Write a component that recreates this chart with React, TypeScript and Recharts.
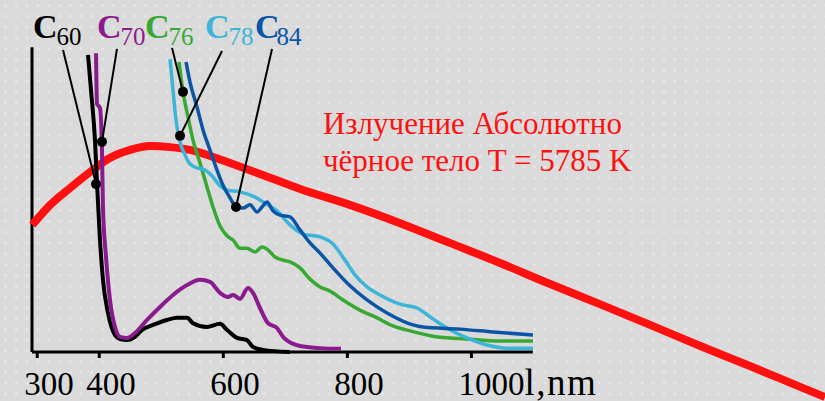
import React from 'react';
import { LineChart, Line, XAxis, YAxis, ReferenceLine, ReferenceDot } from 'recharts';

const SERIF = '"Liberation Serif", "Times New Roman", serif';

// [wavelength nm, relative intensity]
const blackBody: [number, number][] = [
  [292, 36.1], [321, 41.8], [353, 46.6], [385, 51.1], [417, 55.1], [450, 57.4], [482, 58.5],
  [514, 58.2], [546, 57.4], [579, 55.7], [611, 53.7], [659, 50.6], [724, 46.3], [804, 41.8],
  [885, 36.6], [965, 31.0], [1046, 25.3], [1127, 19.3], [1207, 13.6], [1288, 7.7],
  [1369, 1.7], [1449, -4.0], [1530, -9.9], [1570, -12.8],
];

const c60: [number, number][] = [
  [381.9, 84.4], [386.7, 74.4], [393.1, 60.2], [396.4, 48.0], [401.2, 31.8], [406.0, 20.5],
  [414.1, 11.1], [425.4, 4.8], [433.5, 3.7], [444.7, 3.4], [457.6, 4.3], [468.9, 6.3],
  [486.7, 7.7], [509.2, 9.1], [525.3, 9.7], [541.5, 9.7], [551.1, 8.2], [573.7, 7.1],
  [594.7, 8.0], [605.9, 6.3], [622.1, 4.0], [638.2, 3.4], [647.9, 1.4], [664.0, 0.6], [707.5, 0],
];

const c70: [number, number][] = [
  [394.8, 84.9], [396.4, 70.5], [401.2, 69.3], [404.4, 57.4], [406.0, 41.2], [410.9, 27.0],
  [417.3, 14.8], [425.4, 7.1], [433.5, 4.3], [444.7, 4.0], [457.6, 5.4], [477.0, 9.1],
  [497.9, 12.8], [518.9, 16.2], [541.5, 19.0], [562.4, 20.5], [578.5, 19.9], [594.7, 16.8],
  [607.6, 15.6], [615.6, 16.2], [626.9, 15.1], [639.8, 18.2], [647.9, 16.8], [659.1, 12.5],
  [672.0, 8.2], [686.6, 6.8], [697.8, 4.0], [723.6, 1.7], [755.9, 1.1], [789.7, 0.9],
];

const c76: [number, number][] = [
  [528.6, 82.4], [535.0, 73.9], [543.1, 66.8], [551.1, 60.2], [562.4, 53.7], [573.7, 46.9],
  [583.4, 41.2], [594.7, 35.8], [605.9, 33.0], [615.6, 31.8], [626.9, 29.5], [638.2, 29.5],
  [651.1, 28.4], [662.4, 29.8], [672.0, 29.0], [683.3, 27.0], [696.2, 26.1], [707.5, 25.6],
  [723.6, 23.9], [739.8, 20.7], [755.9, 18.5], [772.0, 17.3], [793.0, 14.8], [820.4, 11.9],
  [847.8, 9.7], [873.6, 7.4], [901.0, 6.0], [938.0, 4.5], [992.8, 3.7], [1046.1, 3.1], [1099.2, 3.1],
];

const c78: [number, number][] = [
  [514.1, 83.2], [518.9, 74.4], [523.7, 65.9], [530.2, 59.7], [538.2, 56.0], [546.3, 53.4],
  [557.6, 52.3], [570.5, 51.7], [581.8, 50.0], [594.7, 47.2], [605.9, 46.0], [626.9, 45.5],
  [651.1, 44.0], [667.2, 42.3], [686.6, 40.1], [707.5, 36.1], [728.5, 33.5], [755.9, 32.7],
  [776.8, 30.7], [796.2, 26.1], [812.3, 21.9], [831.6, 18.5], [852.6, 16.2], [884.8, 13.6],
  [912.2, 12.5], [938.0, 9.4], [965.4, 6.3], [992.8, 4.0], [1025.1, 2.0], [1057.3, 1.1], [1099.2, 1.1],
];

const c84: [number, number][] = [
  [539.9, 82.4], [546.3, 76.7], [557.6, 69.6], [567.3, 63.1], [578.5, 57.4], [589.8, 51.7],
  [599.5, 47.4], [610.8, 43.8], [620.5, 41.2], [631.7, 40.9], [643.0, 41.8], [654.3, 39.8],
  [662.4, 41.2], [670.4, 42.6], [680.1, 40.1], [691.4, 38.9], [707.5, 38.4], [723.6, 34.7],
  [739.8, 31.0], [755.9, 28.1], [776.8, 23.9], [804.2, 18.8], [831.6, 14.8], [863.9, 11.1],
  [905.8, 7.7], [921.9, 7.1], [981.6, 6.5], [1034.8, 5.7], [1099.2, 4.8],
];

const xTicks = [300, 400, 600, 800, 1000];
const xAxisName = 'l,nm';
const xAxisRange: [number, number] = [291.6, 1099];
const yAxisTop = 86.6;
const tickDepth = 1.7;
const tickLabelLevel = -12.2;

const annotationText = ['Излучение Абсолютно', 'чёрное тело T = 5785 K'];
const annotationAt: [number, number] = [760.7, 61.9];

// label: subscript, label anchor [x, y], leader from [x, y] to dot [x, y]
const speciesNames = ['60', '70', '76', '78', '84'];
const speciesColors = ['#000000', '#8A1B8C', '#37A834', '#3DB5D8', '#0B55A6'];
const speciesLabelAt: [number, number][] = [[293.2, 89.2], [396.4, 89.2], [473.8, 89.2], [570.5, 89.2], [651.1, 89.2]];
const leaderFrom: [number, number][] = [[341.6, 85.8], [428.6, 86.1], [517.3, 86.4], [597.9, 85.5], [678.5, 86.1]];
const leaderTo: [number, number][] = [[394.8, 47.7], [404.4, 59.7], [535.0, 73.9], [530.2, 61.4], [620.5, 41.2]];

const toRows = (pts: [number, number][]) => pts.map(([x, y]) => ({ x, y }));

const TickText = (props: any) => {
  const { viewBox, text, extra } = props;
  if (!viewBox) return null;
  return (
    <text x={viewBox.x - 13} y={viewBox.y} fontFamily={SERIF} fontSize={33} fill="#000" textAnchor="start">
      {text}
      {extra ? <tspan fontSize={37} letterSpacing={1.5}>{extra}</tspan> : null}
    </text>
  );
};

const SpeciesText = (props: any) => {
  const { viewBox, name, color, shift } = props;
  if (!viewBox) return null;
  return (
    <text x={viewBox.x} y={viewBox.y} fontFamily={SERIF} fill={color} textAnchor="start">
      <tspan fontSize={34} fontWeight="bold">C</tspan>
      <tspan fontSize={25} dx={shift} dy={7}>{name}</tspan>
    </text>
  );
};

const RedText = (props: any) => {
  const { viewBox } = props;
  if (!viewBox) return null;
  return (
    <g>
      {annotationText.map((t, i) => (
        <text key={i} x={viewBox.x} y={viewBox.y + i * 37} fontFamily={SERIF} fontSize={31} fill="#FF1010" textAnchor="start">
          {t}
        </text>
      ))}
    </g>
  );
};

const curves = [
  { key: 'bb', data: blackBody, color: '#FF1010', width: 8 },
  { key: 'c60', data: c60, color: speciesColors[0], width: 4 },
  { key: 'c70', data: c70, color: speciesColors[1], width: 4 },
  { key: 'c76', data: c76, color: speciesColors[2], width: 3.5 },
  { key: 'c78', data: c78, color: speciesColors[3], width: 3.5 },
  { key: 'c84', data: c84, color: speciesColors[4], width: 3.5 },
];

export default function App() {
  return (
    <div
      style={{
        position: 'absolute',
        left: 0,
        top: 0,
        width: 825,
        height: 401,
        backgroundColor: '#dadada',
        backgroundImage: 'radial-gradient(circle, #e7e7e7 1.2px, transparent 1.6px)',
        backgroundSize: '10.8px 10.8px',
      }}
    >
      <LineChart width={825} height={401} margin={{ top: 0, right: 0, bottom: 0, left: 0 }}>
        <XAxis type="number" dataKey="x" domain={[240, 1570]} allowDataOverflow hide />
        <YAxis type="number" dataKey="y" domain={[-13.92, 100]} allowDataOverflow hide />

        <ReferenceLine segment={[{ x: xAxisRange[0], y: 0 }, { x: xAxisRange[1], y: 0 }]} stroke="#000" strokeWidth={3} />
        <ReferenceLine segment={[{ x: xAxisRange[0], y: 0 }, { x: xAxisRange[0], y: yAxisTop }]} stroke="#000" strokeWidth={3} />
        {xTicks.map((t) => (
          <ReferenceLine key={'t' + t} segment={[{ x: t, y: 0 }, { x: t, y: -tickDepth }]} stroke="#000" strokeWidth={3} />
        ))}
        {xTicks.map((t, i) => (
          <ReferenceDot
            key={'l' + t}
            x={t}
            y={tickLabelLevel}
            r={0}
            fill="none"
            stroke="none"
            label={<TickText text={String(t)} extra={i === xTicks.length - 1 ? xAxisName : undefined} />}
          />
        ))}

        {curves.map((c) => (
          <Line
            key={c.key}
            data={toRows(c.data)}
            dataKey="y"
            type="monotone"
            stroke={c.color}
            strokeWidth={c.width}
            strokeLinejoin="round"
            dot={false}
            activeDot={false}
            isAnimationActive={false}
          />
        ))}

        {speciesNames.map((n, i) => (
          <ReferenceLine
            key={'ld' + n}
            segment={[{ x: leaderFrom[i][0], y: leaderFrom[i][1] }, { x: leaderTo[i][0], y: leaderTo[i][1] }]}
            stroke="#000"
            strokeWidth={2}
          />
        ))}
        {speciesNames.map((n, i) => (
          <ReferenceDot key={'dt' + n} x={leaderTo[i][0]} y={leaderTo[i][1]} r={5} fill="#000" stroke="none" />
        ))}
        {speciesNames.map((n, i) => (
          <ReferenceDot
            key={'sp' + n}
            x={speciesLabelAt[i][0]}
            y={speciesLabelAt[i][1]}
            r={0}
            fill="none"
            stroke="none"
            label={<SpeciesText name={n} color={speciesColors[i]} shift={i === 4 ? -3 : -1} />}
          />
        ))}

        <ReferenceDot x={annotationAt[0]} y={annotationAt[1]} r={0} fill="none" stroke="none" label={<RedText />} />
      </LineChart>
    </div>
  );
}
